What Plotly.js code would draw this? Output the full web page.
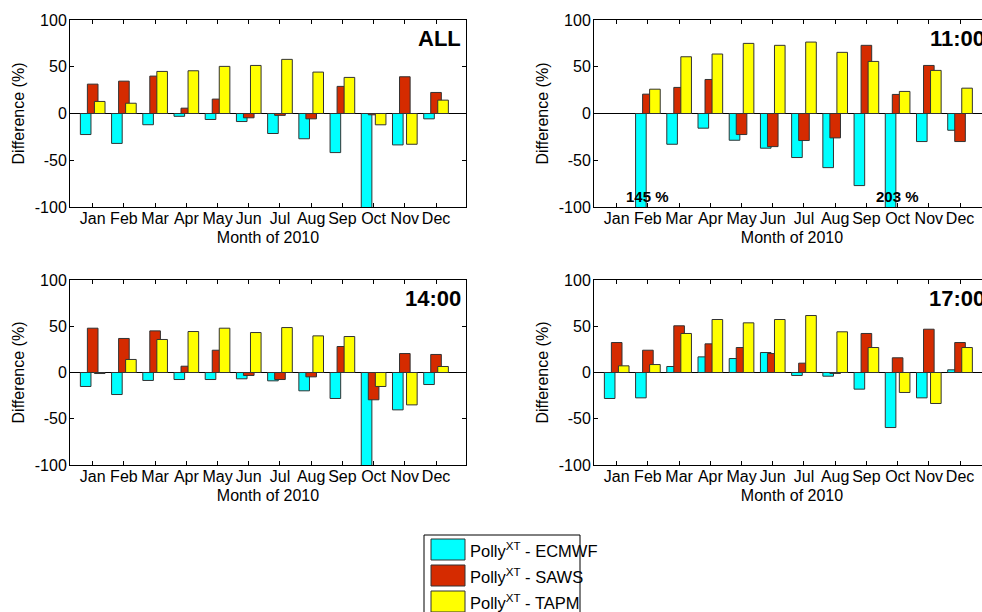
<!DOCTYPE html>
<html>
<head>
<meta charset="utf-8">
<script src="https://cdn.plot.ly/plotly-3.0.1.min.js"></script>
<style>
html,body{margin:0;padding:0;overflow:hidden;background:#fff;}
#chart{width:1000px;height:612px;}
</style>
</head>
<body>
<div id="chart"></div>
<script>
// ---- data ----
const monthPos = [1,2,3,4,5,6,7,8,9,10,11,12];
const monthLabels = ['Jan','Feb','Mar','Apr','May','Jun','Jul','Aug','Sep','Oct','Nov','Dec'];
const seriesNames = ['Polly<sup>XT</sup> - ECMWF','Polly<sup>XT</sup> - SAWS','Polly<sup>XT</sup> - TAPM'];
const panelTitles = ['ALL','11:00','14:00','17:00'];

// ALL
const allEcmwf = [-22.5,-32,-12,-3,-6.4,-8.6,-21.4,-27,-41.8,-115,-33.6,-5.7];
const allSaws  = [31.4,34.6,40,5.7,15.4,-4.6,-2,-5.7,29,-1.4,39.3,22.5];
const allTapm  = [12.9,11,45,45.7,50.4,51.4,57.9,44.3,38.6,-12.1,-32.9,14.3];
// 11:00
const h11Ecmwf = [null,-145,-32.9,-15.7,-28.6,-37.1,-47.1,-57.9,-77.1,-203,-30,-17.9];
const h11Saws  = [null,20.7,27.9,36.4,-22.5,-35.4,-28.9,-26.1,72.9,20.4,51.4,-30];
const h11Tapm  = [null,26,60.7,63.6,75,72.9,76.4,65.4,55.7,23.6,46.1,27.1];
// 14:00
const h14Ecmwf = [-15.1,-23.8,-8.6,-7.6,-7.6,-6.8,-9,-19.8,-28.1,-110,-40.4,-13];
const h14Saws  = [47.9,36.8,45,6.8,24.1,-3.2,-7.6,-4.7,28.1,-29.5,20.5,19.5];
const h14Tapm  = [-1.1,14.1,35.7,44.3,47.9,43.2,48.6,39.6,38.9,-15.1,-35,6.5];
// 17:00
const h17Ecmwf = [-28.1,-27.4,6.5,16.9,15.1,21.6,-3.2,-4,-18,-59.5,-27.4,2.9];
const h17Saws  = [32.4,24.1,50.5,31,27,20.5,10.1,-1,42.2,15.9,46.8,32.4];
const h17Tapm  = [7.2,8.6,42.2,57.3,53.7,57.3,61.6,44,27,-21.6,-33.5,27];

// off-scale labels (11:00)
const offscaleMonths = [2,10];
const offscaleTexts = ['145 %','203 %'];

const yTickVals = [-100,-50,0,50,100];
const yTickText = ['-100','-50','0','50','100'];

// ---- styles ----
const colors = ['#00FFFF','#D52B00','#FFFF00'];
const barWidth = 0.34;
const barOffsets = [-0.395,-0.17,0.055];
const FONT = 'Liberation Sans, Arial, Helvetica, sans-serif';

const panels = [
  [allEcmwf, allSaws, allTapm],
  [h11Ecmwf, h11Saws, h11Tapm],
  [h14Ecmwf, h14Saws, h14Tapm],
  [h17Ecmwf, h17Saws, h17Tapm]
];

const W = 1000, H = 612;
// pixel boxes [left, right, top, bottom]
const boxes = [
  [70, 466, 20, 207],
  [594, 990, 20, 207],
  [70, 466, 280, 465],
  [594, 990, 280, 465]
];

const traces = [];
panels.forEach((p, i) => {
  const xa = i === 0 ? 'x' : 'x' + (i + 1);
  const ya = i === 0 ? 'y' : 'y' + (i + 1);
  p.forEach((vals, s) => {
    traces.push({
      type: 'bar', x: monthPos, y: vals, xaxis: xa, yaxis: ya,
      width: barWidth, offset: barOffsets[s], name: seriesNames[s],
      marker: {color: colors[s], line: {color: '#333', width: 1}},
      showlegend: false, hoverinfo: 'skip'
    });
  });
});

const layout = {
  width: W, height: H,
  margin: {l: 0, r: 0, t: 0, b: 0},
  paper_bgcolor: '#fff', plot_bgcolor: '#fff',
  barmode: 'overlay',
  font: {family: FONT, size: 16, color: '#000'},
  showlegend: false,
  annotations: [],
  shapes: []
};

boxes.forEach((b, i) => {
  const sfx = i === 0 ? '' : String(i + 1);
  layout['xaxis' + sfx] = {
    domain: [b[0] / W, b[1] / W],
    anchor: 'y' + sfx,
    range: [0.273, 12.96],
    tickmode: 'array', tickvals: monthPos, ticktext: monthLabels,
    ticks: 'inside', ticklen: 4, tickcolor: '#000',
    showline: true, linecolor: '#000', linewidth: 1, mirror: 'ticks',
    showgrid: false, zeroline: false,
    tickfont: {size: 16, family: FONT},
    ticklabelstandoff: -3,
    title: {text: 'Month of 2010', font: {size: 16, family: FONT}, standoff: 5},
    automargin: false
  };
  layout['yaxis' + sfx] = {
    domain: [1 - b[3] / H, 1 - b[2] / H],
    anchor: 'x' + sfx,
    range: [-100, 100],
    tickmode: 'array', tickvals: yTickVals, ticktext: yTickText,
    ticks: 'inside', ticklen: 4, tickcolor: '#000',
    showline: true, linecolor: '#000', linewidth: 1, mirror: 'ticks',
    showgrid: false, zeroline: true, zerolinecolor: '#000', zerolinewidth: 1,
    tickfont: {size: 16, family: FONT},
    ticklabelstandoff: -1,
    title: {text: 'Difference (%)', font: {size: 16, family: FONT}, standoff: 6},
    automargin: false
  };
  layout.annotations.push({
    xref: 'paper', yref: 'paper',
    x: (b[1] - 3) / W, y: 1 - (b[2] + 18) / H,
    xanchor: 'right', yanchor: 'middle',
    text: '<b>' + panelTitles[i] + '</b>', showarrow: false,
    font: {size: 22, family: FONT, color: '#000'}
  });
});

offscaleMonths.forEach((m, k) => {
  layout.annotations.push({
    xref: 'x2', yref: 'y2', x: m, y: -89,
    xanchor: 'center', yanchor: 'middle',
    text: '<b>' + offscaleTexts[k] + '</b>', showarrow: false,
    font: {size: 15, family: FONT, color: '#000'}
  });
});

// legend (drawn manually)
layout.shapes.push({
  type: 'rect', xref: 'paper', yref: 'paper', layer: 'above',
  x0: 424 / W, x1: 580 / W, y0: -0.05, y1: 1 - 535 / H,
  line: {color: '#000', width: 1}, fillcolor: '#fff'
});
const legTops = [539, 565, 591];
seriesNames.forEach((nm, s) => {
  layout.shapes.push({
    type: 'rect', xref: 'paper', yref: 'paper', layer: 'above',
    x0: 431 / W, x1: 465 / W, y0: 1 - (legTops[s] + 21) / H, y1: 1 - legTops[s] / H,
    line: {color: '#333', width: 1}, fillcolor: colors[s]
  });
  layout.annotations.push({
    xref: 'paper', yref: 'paper', x: 468 / W, y: 1 - (legTops[s] + 11) / H,
    xanchor: 'left', yanchor: 'middle', showarrow: false,
    text: nm, font: {size: 16.5, family: FONT, color: '#000'}
  });
});

Plotly.newPlot('chart', traces, layout, {staticPlot: true, displayModeBar: false});
</script>
</body>
</html>
